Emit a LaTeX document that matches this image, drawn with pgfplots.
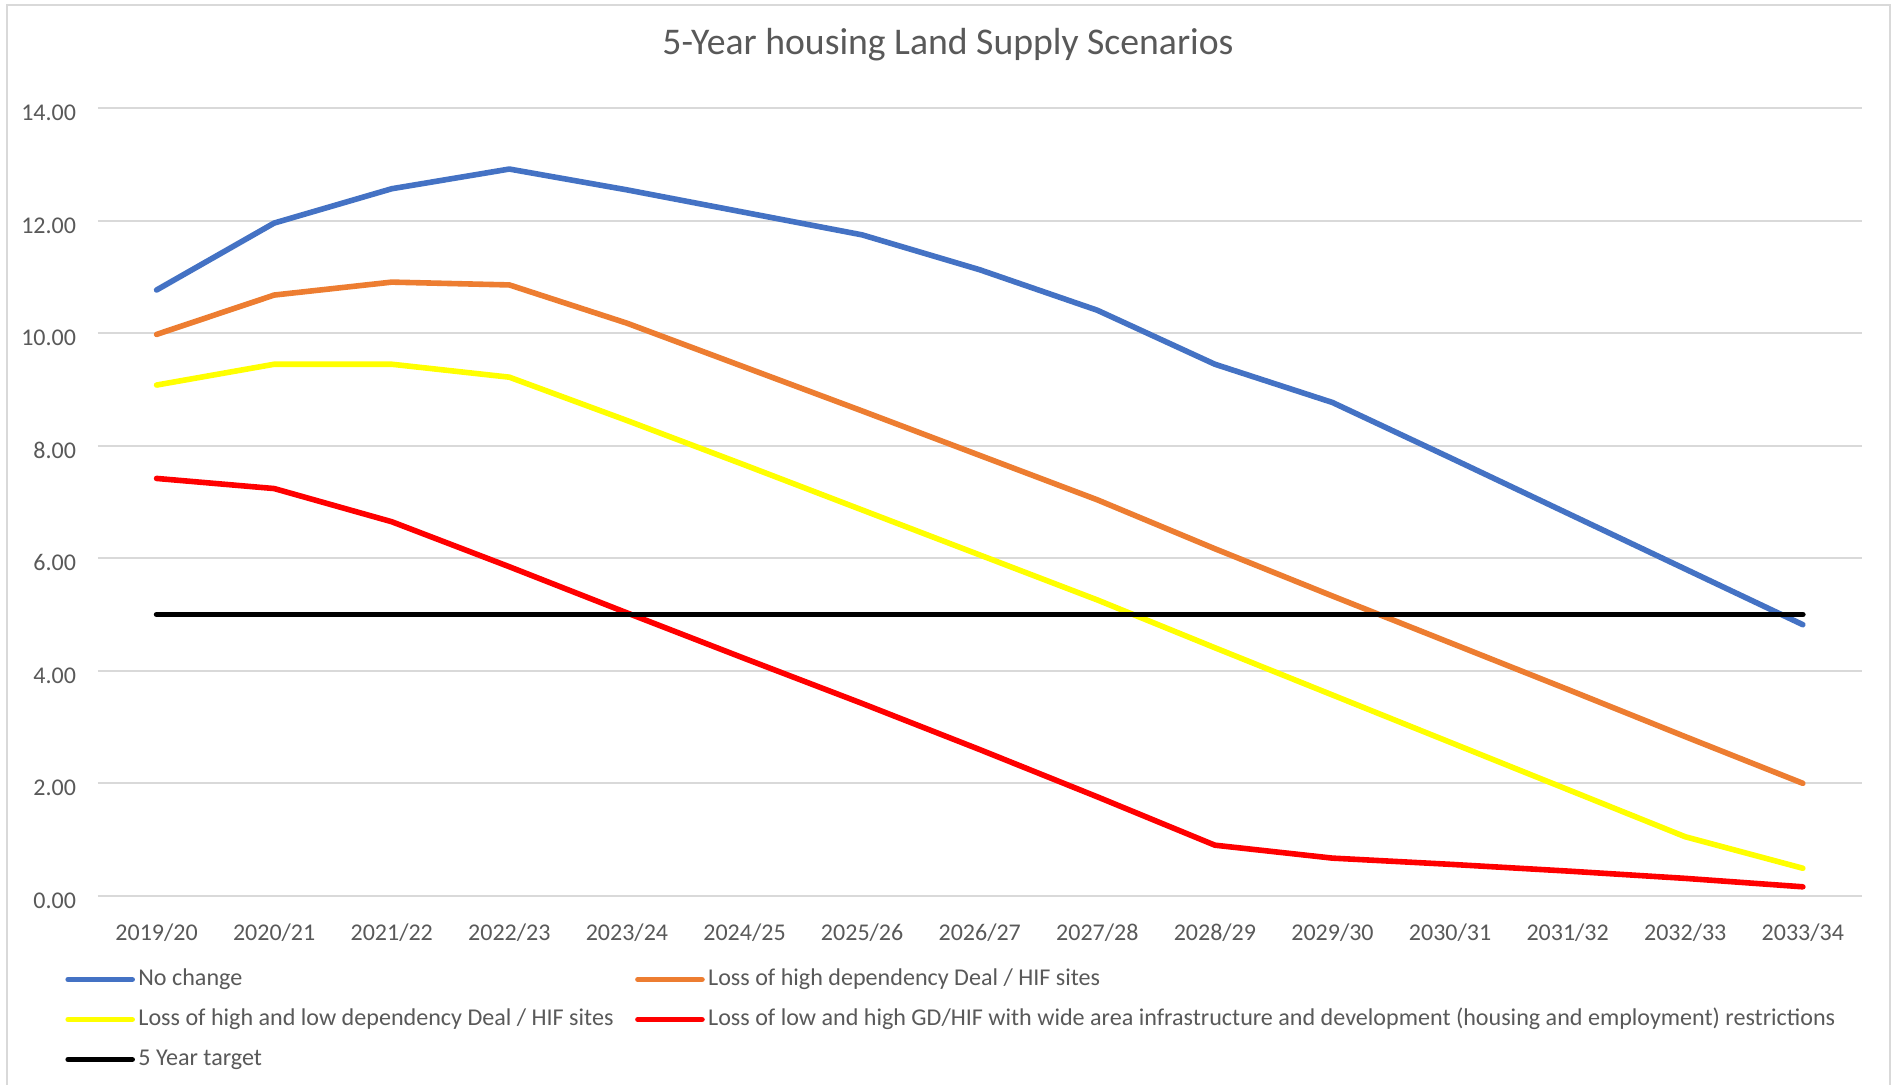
\documentclass[border=0pt]{standalone}
\usepackage{pgfplots}
\pgfplotsset{compat=1.18}
\usepackage{fontspec}
\setmainfont{Carlito}
\definecolor{cblue}{HTML}{4472C4}
\definecolor{corange}{HTML}{ED7D31}
\definecolor{cyellow}{HTML}{FFFF00}
\definecolor{cred}{HTML}{FF0000}
\definecolor{ctext}{HTML}{595959}
\definecolor{cgrid}{HTML}{D9D9D9}
\begin{document}
\begin{tikzpicture}
\useasboundingbox (0pt,0pt) rectangle (946.5pt,542pt);
\fill[white] (0pt,0pt) rectangle (946.5pt,542pt);
\draw[cgrid, line width=1pt] (3.35pt,-5pt) -- (3.35pt,539.5pt) -- (944.75pt,539.5pt) -- (944.75pt,-5pt);
\node[anchor=base, inner sep=0pt, text=ctext, font=\fontsize{18.85}{22}\selectfont] at (474pt,514.8pt) {5-Year housing Land Supply Scenarios};
\begin{axis}[
  at={(48.9pt,94.1pt)}, anchor=south west,
  scale only axis, width=881.9pt, height=393.75pt,
  xmin=-0.5, xmax=14.5, ymin=0, ymax=14,
  xtick={0,...,14},
  xticklabels={2019/20,2020/21,2021/22,2022/23,2023/24,2024/25,2025/26,2026/27,2027/28,2028/29,2029/30,2030/31,2031/32,2032/33,2033/34},
  ytick={0,2,...,14},
  yticklabel style={/pgf/number format/fixed, /pgf/number format/fixed zerofill, /pgf/number format/precision=2, /pgf/number format/assume math mode=true},
  yticklabel style={anchor=base east, inner sep=0pt, xshift=-10.7pt, yshift=-6.2pt},
  xticklabel style={anchor=base, inner sep=0pt, yshift=-22.4pt},
  ticklabel style={text=ctext, font=\fontsize{12.0}{14}\selectfont},
  major tick length=0pt,
  tick style={draw=none},
  axis line style={draw=none},
  ymajorgrids, grid style={cgrid, line width=1pt},
  every axis plot/.append style={line width=2.8pt, line cap=round, line join=round},
  legend columns=2,
  legend cell align=left,
  legend image code/.code={\draw[#1, line width=2.8pt, line cap=round] (0pt,0pt) -- (32pt,0pt);},
  legend style={at={(-0.01837,-0.09105)}, anchor=north west, draw=none, fill=none,
    inner sep=0pt, outer sep=0pt, row sep=8pt,
    font=\fontsize{12.05}{14}\selectfont, text=ctext,
    nodes={inner sep=0pt, text height=9pt, text depth=3pt},
    /tikz/every odd column/.append style={column sep=1.7pt},
    /tikz/every even column/.append style={column sep=10.8pt}},
]
\addplot[cblue] coordinates {(0,10.77)(1,11.96)(2,12.57)(3,12.92)(4,12.55)(5,12.15)(6,11.75)(7,11.13)(8,10.41)(9,9.45)(10,8.77)(11,7.79)(12,6.80)(13,5.81)(14,4.82)};
\addlegendentry{No change}
\addplot[corange] coordinates {(0,9.98)(1,10.68)(2,10.91)(3,10.86)(4,10.18)(5,9.40)(6,8.62)(7,7.83)(8,7.04)(9,6.17)(10,5.33)(11,4.50)(12,3.67)(13,2.83)(14,2.00)};
\addlegendentry{Loss of high dependency Deal / HIF sites}
\addplot[cyellow] coordinates {(0,9.08)(1,9.45)(2,9.45)(3,9.22)(4,8.45)(5,7.66)(6,6.86)(7,6.06)(8,5.26)(9,4.41)(10,3.57)(11,2.73)(12,1.89)(13,1.05)(14,0.49)};
\addlegendentry{Loss of high and low dependency Deal / HIF sites}
\addplot[cred] coordinates {(0,7.42)(1,7.24)(2,6.65)(3,5.85)(4,5.03)(5,4.22)(6,3.42)(7,2.60)(8,1.76)(9,0.90)(10,0.67)(11,0.56)(12,0.44)(13,0.31)(14,0.16)};
\addlegendentry{Loss of low and high GD/HIF with wide area infrastructure and development (housing and employment) restrictions}
\addplot[black] coordinates {(0,5)(1,5)(2,5)(3,5)(4,5)(5,5)(6,5)(7,5)(8,5)(9,5)(10,5)(11,5)(12,5)(13,5)(14,5)};
\addlegendentry{5 Year target}
\end{axis}
\end{tikzpicture}
\end{document}
